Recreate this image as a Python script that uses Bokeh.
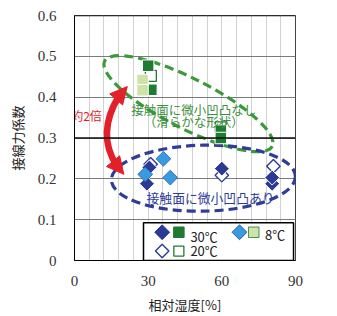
import math
from bokeh.plotting import figure
from bokeh.models import Range1d, FixedTicker, Span, Arrow, NormalHead
from bokeh.core.properties import value
from bokeh.embed import file_html
from bokeh.resources import INLINE

# ---- data (relative humidity [%], tangential force coefficient) ----
rh_30c_sq = [30.0, 31.3, 59.6, 59.6]
mu_30c_sq = [0.477, 0.418, 0.318, 0.300]
rh_20c_sq = [31.1, 59.6]
mu_20c_sq = [0.452, 0.326]
rh_8c_sq = [27.7, 27.7]
mu_8c_sq = [0.442, 0.417]

rh_30c_dm = [29.5, 30.5, 60.0, 80.5, 80.5]
mu_30c_dm = [0.188, 0.228, 0.225, 0.188, 0.203]
rh_20c_dm = [31.0, 60.0, 81.0]
mu_20c_dm = [0.236, 0.209, 0.231]
rh_8c_dm = [28.8, 36.2, 39.0]
mu_8c_dm = [0.211, 0.249, 0.203]

x_ticks = [0, 30, 60, 90]
y_ticks = [0, 0.1, 0.2, 0.3, 0.4, 0.5, 0.6]
x_minor_grid = [0, 6, 12, 18, 24, 30, 36, 42, 48, 54, 60, 66, 72, 78, 84, 90]

x_label = "相対湿度[%]"
y_label = "接線力係数"
label_smooth = ["接触面に微小凹凸なし", "（滑らかな形状）"]
label_rough = "接触面に微小凹凸あり"
label_ratio = "約2倍"
legend_labels = ["30℃", "8℃", "20℃"]

# annotation anchors (data coordinates)
green_ell = dict(x=46.4, y=0.384, w=188, h=50, ang=-0.47)
blue_ell = dict(x=52.5, y=0.2016, w=184, h=66, ang=0.02)
arc_p0 = (17.9, 0.401)
arc_c = (8.9, 0.310)
arc_p2 = (17.1, 0.233)
tip_top = (21.5, 0.426)
tip_bot = (20.1, 0.211)

DKBLUE = "#2B3A94"
LTBLUE = "#3A9AE0"
DKGREEN = "#1F7A33"
LTGREEN = "#CFE3A9"
GTEXT = "#3C8F3C"
GELL = "#3A9A3A"
BELL = "#2F3D99"
RED = "#E3202A"
CJK = value("Noto Sans CJK JP")

p = figure(width=337, height=316, output_backend="svg", toolbar_location=None,
           x_range=Range1d(0, 90), y_range=Range1d(0, 0.6),
           min_border_left=74, min_border_right=42, min_border_top=15,
           min_border_bottom=54, background_fill_color="white",
           border_fill_color="white")

p.outline_line_color = "#444444"
p.outline_line_width = 1

# grids
p.xgrid.ticker = FixedTicker(ticks=x_minor_grid)
p.xgrid.grid_line_color = "#d2d2d2"
p.xgrid.grid_line_width = 1
p.ygrid.ticker = FixedTicker(ticks=y_ticks)
p.ygrid.grid_line_color = "#7a7a7a"
p.ygrid.grid_line_width = 1
p.add_layout(Span(location=0.3, dimension="width", line_color="#111111", line_width=1.4))
p.add_layout(Span(location=0.6, dimension="width", line_color="#111111", line_width=1.4))

# axes
p.xaxis.ticker = FixedTicker(ticks=x_ticks)
p.yaxis.ticker = FixedTicker(ticks=y_ticks)
p.yaxis.major_label_overrides = {0: "0"}
for ax in (p.xaxis, p.yaxis):
    ax.axis_line_color = "black"
    ax.axis_line_width = 1
    ax.major_tick_line_color = None
    ax.minor_tick_line_color = None
    ax.major_label_text_font = "Liberation Serif"
    ax.major_label_text_font_size = "15px"
    ax.major_label_text_color = "#333333"
    ax.axis_label_text_font = "Noto Sans CJK JP"
    ax.axis_label_text_font_size = "13px"
    ax.axis_label_text_font_style = "normal"
    ax.axis_label_text_color = "#222222"
p.xaxis.axis_label = x_label
p.yaxis.axis_label = y_label
p.yaxis.major_label_standoff = 12
p.xaxis.major_label_standoff = 9
p.yaxis.axis_label_standoff = 8
p.xaxis.axis_label_standoff = 6

# ellipses
p.ellipse(x=[green_ell["x"]], y=[green_ell["y"]], width=[green_ell["w"]], height=[green_ell["h"]],
          angle=green_ell["ang"], width_units="screen", height_units="screen",
          fill_color=None, line_color=GELL, line_width=3.2, line_dash="9 5")
p.ellipse(x=[blue_ell["x"]], y=[blue_ell["y"]], width=[blue_ell["w"]], height=[blue_ell["h"]],
          angle=blue_ell["ang"], width_units="screen", height_units="screen",
          fill_color=None, line_color=BELL, line_width=3.2, line_dash="9 5")

D = math.pi / 4
# squares (smooth surface)
p.scatter(rh_20c_sq, mu_20c_sq, marker="square", size=11, fill_color="white",
          line_color=DKGREEN, line_width=1.3)
p.scatter(rh_30c_sq, mu_30c_sq, marker="square", size=11.5, fill_color=DKGREEN,
          line_color="white", line_width=1)
p.scatter(rh_8c_sq, mu_8c_sq, marker="square", size=11.5, fill_color=LTGREEN,
          line_color="white", line_width=1)
# diamonds (rough surface)
p.scatter(rh_20c_dm, mu_20c_dm, marker="square", angle=D, size=9.5, fill_color="white",
          line_color=DKBLUE, line_width=1.4)
p.scatter(rh_30c_dm, mu_30c_dm, marker="square", angle=D, size=10.5, fill_color=DKBLUE,
          line_color="white", line_width=1)
p.scatter(rh_8c_dm, mu_8c_dm, marker="square", angle=D, size=10.5, fill_color=LTBLUE,
          line_color="#2A5EAA", line_width=0.8)

# texts
p.text(x=[green_ell["x"] + 2.2], y=[0.369], text=[label_smooth[0]], text_font=CJK,
       text_font_size="12.5px", text_color=GTEXT, text_align="center", text_baseline="middle")
p.text(x=[green_ell["x"] + 2.2], y=[0.341], text=[label_smooth[1]], text_font=CJK,
       text_font_size="12.5px", text_color=GTEXT, text_align="center", text_baseline="middle")
p.text(x=[55.4], y=[0.1547], text=[label_rough], text_font=CJK,
       text_font_size="12.8px", text_color=BELL, text_align="center", text_baseline="middle")
p.text(x=[4.9], y=[0.355], text=[label_ratio], text_font=CJK,
       text_font_size="12px", text_color=RED, text_align="center", text_baseline="middle")

# red double arrow
p.quadratic(x0=[arc_p0[0]], y0=[arc_p0[1]], x1=[arc_p2[0]], y1=[arc_p2[1]],
            cx=[arc_c[0]], cy=[arc_c[1]], line_color=RED, line_width=6.5)
p.add_layout(Arrow(end=NormalHead(size=17, fill_color=RED, line_color=RED),
                   line_color=None, x_start=arc_p0[0], y_start=arc_p0[1],
                   x_end=tip_top[0], y_end=tip_top[1]))
p.add_layout(Arrow(end=NormalHead(size=17, fill_color=RED, line_color=RED),
                   line_color=None, x_start=arc_p2[0], y_start=arc_p2[1],
                   x_end=tip_bot[0], y_end=tip_bot[1]))

# legend box (drawn manually: diamond + square pairs side by side)
leg_left, leg_right, leg_top, leg_bot = 28.1, 89.2, 0.0923, 0.0
p.quad(left=[leg_left], right=[leg_right], top=[leg_top], bottom=[leg_bot],
       fill_color="white", line_color="black", line_width=1.5)
row1, row2 = 0.0692, 0.0231
p.scatter([35.7], [row1], marker="square", angle=D, size=10.5, fill_color=DKBLUE, line_color=DKBLUE)
p.scatter([42.5], [row1], marker="square", size=10.5, fill_color=DKGREEN, line_color=DKGREEN)
p.scatter([67.2], [row1], marker="square", angle=D, size=10.5, fill_color=LTBLUE, line_color="#2A5EAA")
p.scatter([73.0], [row1], marker="square", size=10.5, fill_color=LTGREEN, line_color=DKGREEN, line_width=0.8)
p.scatter([35.7], [row2], marker="square", angle=D, size=9.5, fill_color="white", line_color=DKBLUE, line_width=1.4)
p.scatter([42.5], [row2], marker="square", size=10, fill_color="white", line_color=DKGREEN, line_width=1.3)
p.text(x=[47.2, 77.6, 47.2], y=[0.060, 0.064, 0.0235], text=legend_labels, text_font=CJK,
       text_font_size="13px", text_color="#222222", text_align="left", text_baseline="middle")

open("out.html", "w").write(file_html(p, INLINE))
